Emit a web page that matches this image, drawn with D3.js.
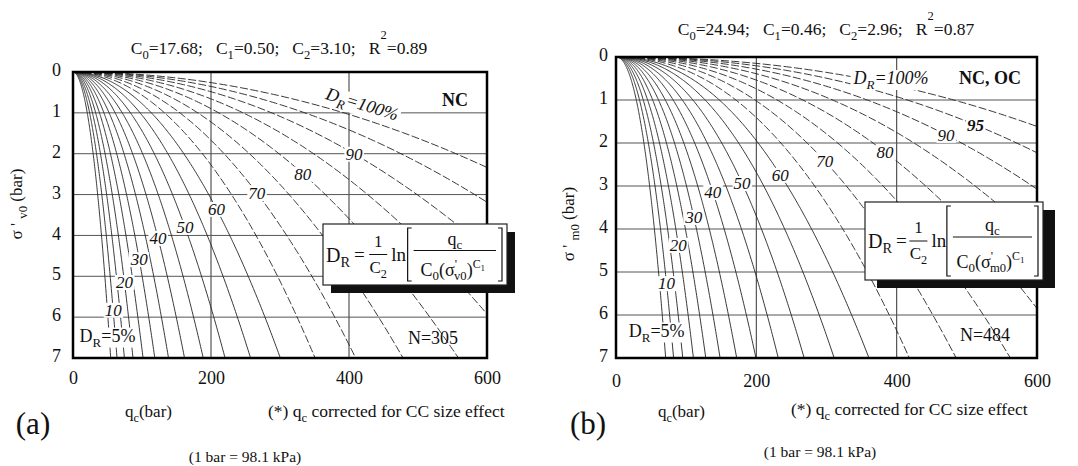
<!DOCTYPE html>
<html>
<head>
<meta charset="utf-8">
<script src="https://cdn.jsdelivr.net/npm/d3@7"></script>
<style>
  body { margin: 0; background: #fff; }
  svg { display: block; }
  text { font-family: "Liberation Serif", "Times New Roman", serif; fill: #111; white-space: pre; }
</style>
</head>
<body>
<div id="container"></div>
<script>
const width = 1078;
const height = 466;

// relative density levels drawn as iso-lines (fraction)
const drLevels = [0.05, 0.10, 0.15, 0.20, 0.25, 0.30, 0.35, 0.40, 0.45, 0.50,
                  0.55, 0.60, 0.65, 0.70, 0.75, 0.80, 0.85, 0.90, 0.95, 1.00];
// fitted coefficients C0, C1, C2 printed above each panel
const coefA = [17.68, 0.50, 3.10];
const coefB = [24.94, 0.46, 2.96];
const r2Values = ["0.89", "0.87"];
const sampleCounts = [305, 484];
// axis ticks
const qcTicks = [0, 200, 400, 600];
const sigmaTicks = [0, 1, 2, 3, 4, 5, 6, 7];
// curve labels: DR level (%) and the stress where it sits on its curve
const labelLevelsA = [90, 80, 70, 60, 50, 40, 30, 20, 10];
const labelSigmaA = [2.0, 2.49, 2.96, 3.35, 3.79, 4.06, 4.58, 5.14, 5.82];
const labelLevelsB = [95, 90, 80, 70, 60, 50, 40, 30, 20, 10];
const labelSigmaB = [1.58, 1.81, 2.21, 2.42, 2.74, 2.93, 3.14, 3.72, 4.37, 5.26];

const svg = d3.select("#container").append("svg")
  .attr("width", width).attr("height", height);

// text with sub/superscripts: segments are strings or [text, shift, scale, dx]
function rich(sel, x, y, segs, size, anchor) {
  const t = sel.append("text").attr("x", x).attr("y", y)
    .attr("xml:space", "preserve")
    .attr("font-size", size).attr("text-anchor", anchor || "start");
  let cur = 0;
  segs.forEach(s => {
    const [str, shift = 0, scale = 1, dx = 0] = typeof s === "string" ? [s] : s;
    t.append("tspan").attr("dy", shift - cur).attr("dx", dx)
      .attr("font-size", size * scale).text(str);
    cur = shift;
  });
  return t;
}

function whiteBehind(g, node, pad) {
  const b = node.getBBox();
  g.insert("rect", () => node)
    .attr("x", b.x - pad).attr("y", b.y + 2).attr("width", b.width + 2 * pad)
    .attr("height", b.height - 4).attr("fill", "#fff")
    .attr("transform", d3.select(node).attr("transform"));
}

function drawPanel(p) {
  const [C0, C1, C2] = p.coef;
  const x = d3.scaleLinear().domain([0, 600]).range([p.left, p.right]);
  const y = d3.scaleLinear().domain([0, 7]).range([p.top, p.bottom]);
  const g = svg.append("g");

  const clipId = "clip" + p.id;
  g.append("clipPath").attr("id", clipId).append("rect")
    .attr("x", p.left).attr("y", p.top)
    .attr("width", p.right - p.left).attr("height", p.bottom - p.top);

  // grid
  g.append("g").selectAll("line").data([200, 400]).join("line")
    .attr("x1", d => x(d)).attr("x2", d => x(d))
    .attr("y1", p.top).attr("y2", p.bottom)
    .attr("stroke", "#444").attr("stroke-width", 1.1);
  g.append("g").selectAll("line").data([1, 2, 3, 4, 5, 6]).join("line")
    .attr("x1", p.left).attr("x2", p.right)
    .attr("y1", d => y(d)).attr("y2", d => y(d))
    .attr("stroke", "#555").attr("stroke-width", 1);

  // iso-density curves from the fitted relation shown in the box
  const qcAt = (dr, s) => C0 * Math.pow(s, C1) * Math.exp(C2 * dr);
  const steps = d3.range(0, 1.0001, 0.005).map(t => 7 * t * t);
  const line = d3.line().x(d => x(d[0])).y(d => y(d[1]));
  g.append("g").attr("clip-path", `url(#${clipId})`)
    .selectAll("path").data(drLevels).join("path")
    .attr("d", dr => line(steps.map(s => [qcAt(dr, s), s])))
    .attr("fill", "none")
    .attr("stroke", "#222")
    .attr("stroke-width", 0.9)
    .attr("stroke-dasharray", dr => dr >= 0.65 ? "8,2.5" : null);

  // curve labels
  const lg = g.append("g");
  p.labelLevels.forEach((lv, i) => {
    const s = p.labelSigma[i];
    const t = lg.append("text")
      .attr("x", x(qcAt(lv / 100, s))).attr("y", y(s) + 6)
      .attr("text-anchor", "middle").attr("font-size", 17)
      .attr("font-style", "italic")
      .attr("font-weight", lv === 95 ? "bold" : null)
      .text(lv);
    whiteBehind(lg, t.node(), 1);
  });

  // DR = 5% label
  const t5 = rich(lg, x(p.low[0]), y(p.low[1]), ["D", ["R", 5, 0.72], ["=5%", 0, 1]], 18, "middle");
  whiteBehind(lg, t5.node(), 1);

  // DR = 100% label
  const t100 = rich(lg, p.top100[0], p.top100[1],
    ["D", ["R", 5, 0.72], ["=100%", 0, 1]], 18, "middle")
    .attr("font-style", "italic")
    .attr("transform", `rotate(${p.top100[2]},${p.top100[0]},${p.top100[1] - 5})`);
  whiteBehind(lg, t100.node(), 2);

  // state tag and count
  g.append("text").attr("x", p.tag[0]).attr("y", p.tag[1])
    .attr("text-anchor", "middle").attr("font-size", 18).attr("font-weight", "bold")
    .text(p.tagText);
  g.append("text").attr("x", p.nPos[0]).attr("y", p.nPos[1])
    .attr("text-anchor", "middle").attr("font-size", 18).text("N=" + p.n);

  // frame
  g.append("rect").attr("x", p.left).attr("y", p.top)
    .attr("width", p.right - p.left).attr("height", p.bottom - p.top)
    .attr("fill", "none").attr("stroke", "#000").attr("stroke-width", 2.5);

  // axes
  const ya = g.append("g").attr("transform", `translate(${p.left},0)`)
    .call(d3.axisLeft(y).tickValues(sigmaTicks).tickSize(0).tickPadding(p.yPad).tickFormat(d3.format("d")));
  const xa = g.append("g").attr("transform", `translate(0,${p.bottom})`)
    .call(d3.axisBottom(x).tickValues(qcTicks).tickSize(0).tickPadding(p.xPad).tickFormat(d3.format("d")));
  [ya, xa].forEach(a => {
    a.select(".domain").remove();
    a.selectAll("text").attr("font-size", 18).attr("fill", "#111");
  });
  ya.selectAll(".tick text").attr("dy", "0.2em");

  // title with coefficients
  rich(g, p.title[0], p.title[1], [
    "C", ["0", 5, 0.72], ["=" + C0.toFixed(2) + ";   C", 0, 1], ["1", 5, 0.72],
    ["=" + C1.toFixed(2) + ";   C", 0, 1], ["2", 5, 0.72],
    ["=" + C2.toFixed(2) + ";   R", 0, 1], ["2", -15, 0.72], ["=" + p.r2, 0, 1]
  ], 17.5, "middle");

  // y axis title
  rich(g, 0, 0, ["σ ' ", ["" + p.ySub, 5, 0.75], [" (bar)", 0, 1]], 17, "middle")
    .attr("transform", `translate(${p.yTitle[0]},${p.yTitle[1]}) rotate(-90)`);

  // bottom notes
  rich(g, p.qcLab[0], p.qcLab[1], ["q", ["c", 5, 0.72], ["(bar)", 0, 1]], 17, "start");
  rich(g, p.note[0], p.note[1], ["(*) q", ["c", 5, 0.72], [" corrected for CC size effect", 0, 1]], 17.5, "start");
  g.append("text").attr("x", p.unit[0]).attr("y", p.unit[1])
    .attr("text-anchor", "middle").attr("font-size", 15.5).text("(1 bar = 98.1 kPa)");
  g.append("text").attr("x", p.letter[0]).attr("y", p.letter[1])
    .attr("text-anchor", "middle").attr("font-size", 31).text(p.letterText);

  // formula box with shadow
  const b = p.box;
  const fb = g.append("g").attr("transform", `translate(${b.x},${b.y})`);
  fb.append("rect").attr("x", b.sx).attr("y", b.sy).attr("width", b.w).attr("height", b.h).attr("fill", "#111");
  fb.append("rect").attr("width", b.w).attr("height", b.h).attr("fill", "#fff")
    .attr("stroke", "#222").attr("stroke-width", 1.2);
  const mid = b.h * 0.5;
  rich(fb, 3, mid + 7, ["D", ["R", 5, 0.72]], 20, "start");
  fb.append("text").attr("x", 31).attr("y", mid + 6).attr("font-size", 19).text("=");
  fb.append("text").attr("x", b.w * 0.3).attr("y", mid - 8).attr("font-size", 17).attr("text-anchor", "middle").text("1");
  fb.append("line").attr("x1", b.w * 0.3 - 9).attr("x2", b.w * 0.3 + 9).attr("y1", mid).attr("y2", mid).attr("stroke", "#111");
  rich(fb, b.w * 0.3, mid + 18, ["C", ["2", 5, 0.72]], 17, "middle");
  fb.append("text").attr("x", b.w * 0.3 + 13).attr("y", mid + 6).attr("font-size", 19).text("ln");
  const bl = b.w * 0.46, br = b.w - 5;
  const brk = (xx, dir) => `M${xx + 4 * dir},4 H${xx} V${b.h - 4} H${xx + 4 * dir}`;
  fb.append("path").attr("d", brk(bl, 1) + brk(br, -1)).attr("fill", "none").attr("stroke", "#111").attr("stroke-width", 1.2);
  const fc = (bl + br) / 2;
  rich(fb, fc, mid - 10, ["q", ["c", 4, 0.72]], 18, "middle");
  fb.append("line").attr("x1", bl + 6).attr("x2", br - 6).attr("y1", mid - 4).attr("y2", mid - 4).attr("stroke", "#111");
  rich(fb, fc - 2, mid + b.denDy, ["C", ["0", 4, 0.72], ["(σ", 0, 1], ["'", -8, 0.7, 0], [p.ySub, 4, 0.7, -3], [")", 0, 1], ["C", -8, 0.66], ["1", -5, 0.5]], 18, "middle");
}

drawPanel({
  id: "a", coef: coefA, r2: r2Values[0], n: sampleCounts[0],
  left: 73, right: 487, top: 72, bottom: 358, yPad: 12, xPad: 13,
  labelLevels: labelLevelsA, labelSigma: labelSigmaA,
  low: [50, 6.6], top100: [362, 110, 17],
  tag: [455, 106], tagText: "NC", nPos: [433, 344],
  title: [279, 54], yTitle: [22, 204], ySub: "v0",
  qcLab: [125, 417], note: [268, 417], unit: [245, 462], letter: [33, 434], letterText: "(a)",
  box: { x: 323, y: 224, w: 184, h: 61, sx: 8, sy: 8, denDy: 21 }
});

drawPanel({
  id: "b", coef: coefB, r2: r2Values[1], n: sampleCounts[1],
  left: 616, right: 1037, top: 57, bottom: 358, yPad: 8, xPad: 16,
  labelLevels: labelLevelsB, labelSigma: labelSigmaB,
  low: [58, 6.5], top100: [891, 84, 0],
  tag: [990, 84], tagText: "NC, OC", nPos: [985, 341],
  title: [826, 35], yTitle: [574, 224], ySub: "m0",
  qcLab: [658, 417], note: [791, 415], unit: [820, 457], letter: [588, 434], letterText: "(b)",
  box: { x: 865, y: 202, w: 178, h: 78, sx: 12, sy: 8, denDy: 27 }
});
</script>
</body>
</html>
